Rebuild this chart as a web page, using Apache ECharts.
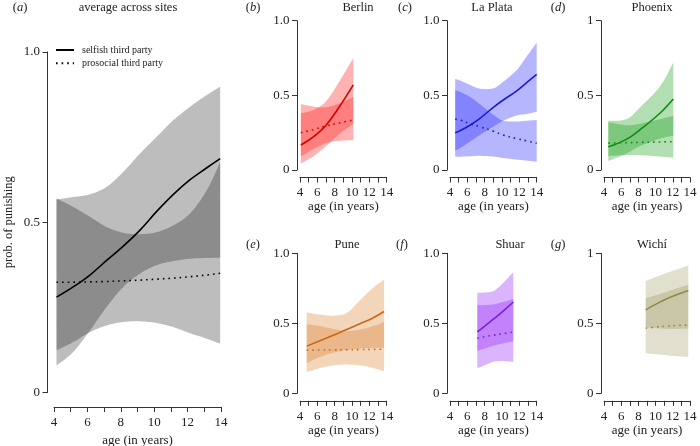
<!DOCTYPE html>
<html><head><meta charset="utf-8">
<script src="https://cdn.jsdelivr.net/npm/echarts/dist/echarts.min.js"></script>
<style>html,body{margin:0;padding:0;background:#fff}#c{width:700px;height:446px}</style>
</head><body><div id="c"></div>
<script>
// ---------- data ----------
const panelLetters = ['a','b','c','d','e','f','g'];
const panelTitles = ['average across sites','Berlin','La Plata','Phoenix','Pune','Shuar','Wichí'];
const seriesNames = ['selfish third party','prosocial third party'];
const xTicks = [4,5,6,7,8,9,10,11,12,13,14];

// (a) average across sites
const aAge = [4.15,5.15,6.15,7.15,8.15,9.15,10.15,11.15,12.15,13.15,13.95];
const aSelfish    = [0.28,0.31,0.345,0.388,0.43,0.477,0.532,0.582,0.625,0.66,0.687];
const aSelfishHi  = [0.567,0.574,0.582,0.604,0.648,0.702,0.751,0.80,0.839,0.874,0.898];
const aSelfishLo  = [0.079,0.119,0.182,0.251,0.31,0.349,0.374,0.386,0.393,0.395,0.396];
const aProsocial  = [0.324,0.324,0.325,0.326,0.328,0.33,0.333,0.336,0.34,0.345,0.35];
const aProsocialHi= [0.57,0.545,0.516,0.486,0.469,0.465,0.471,0.491,0.526,0.594,0.677];
const aProsocialLo= [0.124,0.148,0.177,0.197,0.207,0.209,0.204,0.192,0.174,0.158,0.143];

// (b) Berlin
const bAge = [4.1,5.5,7,8.5,10.15];
const bSelfish    = [0.167,0.22,0.30,0.42,0.57];
const bSelfishHi  = [0.38,0.40,0.46,0.59,0.75];
const bSelfishLo  = [0.045,0.09,0.16,0.24,0.31];
const bProsocial  = [0.25,0.27,0.295,0.315,0.335];
const bProsocialHi= [0.442,0.425,0.42,0.445,0.49];
const bProsocialLo= [0.09,0.14,0.18,0.195,0.20];

// (c) La Plata
const cAge = [4.6,5.15,6.3,7.46,9.0,10.15,11.7,12.84,14];
const cSelfish    = [0.25,0.263,0.30,0.346,0.42,0.469,0.53,0.585,0.64];
const cSelfishHi  = [0.61,0.60,0.57,0.545,0.547,0.592,0.67,0.76,0.853];
const cSelfishLo  = [0.13,0.145,0.19,0.235,0.29,0.33,0.365,0.375,0.39];
const cProsocial  = [0.34,0.335,0.31,0.29,0.26,0.234,0.21,0.195,0.179];
const cProsocialHi= [0.535,0.524,0.49,0.44,0.37,0.33,0.325,0.33,0.335];
const cProsocialLo= [0.09,0.089,0.092,0.095,0.09,0.08,0.07,0.063,0.056];

// (d) Phoenix
const dAge = [4.5,6.6,8.2,10.5,12.06];
const dSelfish    = [0.155,0.205,0.27,0.38,0.475];
const dSelfishHi  = [0.33,0.34,0.42,0.56,0.72];
const dSelfishLo  = [0.06,0.11,0.16,0.21,0.229];
const dProsocial  = [0.18,0.183,0.185,0.188,0.19];
const dProsocialHi= [0.32,0.30,0.31,0.34,0.363];
const dProsocialLo= [0.094,0.10,0.10,0.09,0.083];

// (e) Pune
const eAge = [4.77,6.31,7.85,9.38,10.92,12.46,13.7];
const eSelfish    = [0.337,0.375,0.415,0.455,0.497,0.54,0.584];
const eSelfishHi  = [0.577,0.562,0.555,0.573,0.665,0.755,0.813];
const eSelfishLo  = [0.214,0.26,0.29,0.31,0.32,0.325,0.326];
const eProsocial  = [0.308,0.309,0.31,0.311,0.312,0.314,0.315];
const eProsocialHi= [0.494,0.48,0.46,0.445,0.455,0.48,0.51];
const eProsocialLo= [0.151,0.18,0.2,0.205,0.2,0.18,0.158];

// (f) Shuar
const fAge = [7.15,8,9,10,11.3];
const fSelfish    = [0.438,0.48,0.53,0.58,0.652];
const fSelfishHi  = [0.719,0.72,0.73,0.78,0.865];
const fSelfishLo  = [0.18,0.20,0.225,0.23,0.225];
const fProsocial  = [0.393,0.405,0.415,0.425,0.438];
const fProsocialHi= [0.629,0.63,0.635,0.65,0.674];
const fProsocialLo= [0.303,0.32,0.34,0.355,0.371];

// (g) Wichí
const gAge = [8.85,10,11.3,12.5,13.8];
const gSelfish    = [0.596,0.635,0.675,0.705,0.735];
const gSelfishHi  = [0.802,0.83,0.86,0.885,0.914];
const gSelfishLo  = [0.47,0.465,0.46,0.46,0.461];
const gProsocial  = [0.465,0.472,0.48,0.485,0.488];
const gProsocialHi= [0.679,0.70,0.725,0.75,0.775];
const gProsocialLo= [0.286,0.28,0.272,0.265,0.259];

// ---------- layout / style ----------
const FONT = '"Liberation Serif", "Times New Roman", serif';
const panels = [
  {age:aAge, s:aSelfish, sHi:aSelfishHi, sLo:aSelfishLo, p:aProsocial, pHi:aProsocialHi, pLo:aProsocialLo,
   band:'rgba(0,0,0,0.26)', line:'#000000', grid:{left:54, top:52, width:167, height:340.5}, yOff:6.5, xOff:14.5, xGap:26, yLab:'1.0'},
  {age:bAge, s:bSelfish, sHi:bSelfishHi, sLo:bSelfishLo, p:bProsocial, pHi:bProsocialHi, pLo:bProsocialLo,
   band:'rgba(255,20,20,0.33)', line:'#d40000', grid:{left:300, top:20.7, width:86.7, height:149.3}, yOff:3, xOff:7.5, xGap:23, yLab:'1.0'},
  {age:cAge, s:cSelfish, sHi:cSelfishHi, sLo:cSelfishLo, p:cProsocial, pHi:cProsocialHi, pLo:cProsocialLo,
   band:'rgba(20,20,255,0.31)', line:'#1c1ccc', grid:{left:450, top:20.7, width:86.7, height:149.3}, yOff:3, xOff:7.5, xGap:23, yLab:'1.0'},
  {age:dAge, s:dSelfish, sHi:dSelfishHi, sLo:dSelfishLo, p:dProsocial, pHi:dProsocialHi, pLo:dProsocialLo,
   band:'rgba(0,150,0,0.3)', line:'#138a13', grid:{left:604, top:20.7, width:86, height:149.3}, yOff:3, xOff:7.5, xGap:23, yLab:'1'},
  {age:eAge, s:eSelfish, sHi:eSelfishHi, sLo:eSelfishLo, p:eProsocial, pHi:eProsocialHi, pLo:eProsocialLo,
   band:'rgba(215,115,25,0.3)', line:'#c8691a', grid:{left:300, top:253.3, width:86.7, height:140}, yOff:3, xOff:7.5, xGap:23, yLab:'1.0'},
  {age:fAge, s:fSelfish, sHi:fSelfishHi, sLo:fSelfishLo, p:fProsocial, pHi:fProsocialHi, pLo:fProsocialLo,
   band:'rgba(150,40,245,0.35)', line:'#7a1fd6', grid:{left:450, top:253.3, width:86.7, height:140}, yOff:3, xOff:7.5, xGap:23, yLab:'1.0'},
  {age:gAge, s:gSelfish, sHi:gSelfishHi, sLo:gSelfishLo, p:gProsocial, pHi:gProsocialHi, pLo:gProsocialLo,
   band:'rgba(135,128,60,0.25)', line:'#8c8a4a', grid:{left:604, top:253.3, width:86, height:140}, yOff:3, xOff:7.5, xGap:23, yLab:'1'}
];
const letterPos = [[20,8],[253,8],[405,8],[558,8],[253,245],[402,245],[558,245]];
const titlePos  = [[128,8],[358,8],[492,8],[652,8],[347,245],[510,245],[652,245]];

function spline(p){
  const out=[];
  for(let i=0;i<p.length-1;i++){
    const p0=p[Math.max(i-1,0)], p1=p[i], p2=p[i+1], p3=p[Math.min(i+2,p.length-1)];
    for(let k=0;k<10;k++){
      const t=k/10, t2=t*t, t3=t2*t;
      const f=(a,b,c,d)=>0.5*(2*b+(-a+c)*t+(2*a-5*b+4*c-d)*t2+(-a+3*b-3*c+d)*t3);
      out.push([f(p0[0],p1[0],p2[0],p3[0]), f(p0[1],p1[1],p2[1],p3[1])]);
    }
  }
  out.push(p[p.length-1]);
  return out;
}
function band(gi, ages, lo, hi, color){
  return {
    type:'custom', name:'band'+gi+color, xAxisIndex:gi, yAxisIndex:gi, silent:true, z:1,
    data: ages.map((a,i)=>[a, lo[i], hi[i]]),
    encode:{x:0, y:[1,2]},
    renderItem:function(params, api){
      if(params.dataIndex!==0) return null;
      const up = ages.map((a,i)=>api.coord([a, hi[i]]));
      const dn = ages.map((a,i)=>api.coord([a, lo[i]]));
      const pts = spline(up).concat(spline(dn).reverse());
      return {type:'polygon', shape:{points:pts}, style:{fill:color, stroke:null}};
    }
  };
}

const grids=[], xAxes=[], yAxes=[], series=[], graphics=[];
panels.forEach((P,gi)=>{
  grids.push(Object.assign({containLabel:false, outerBoundsMode:'none'}, P.grid));
  const axLine = {show:true, onZero:false, lineStyle:{color:'#333', width:1}};
  const tick = {show:true, length:5, inside:false, lineStyle:{color:'#333', width:1}};
  xAxes.push({type:'value', gridIndex:gi, min:4, max:14, interval:1, offset:P.xOff,
    axisLine:axLine, axisTick:tick, splitLine:{show:false},
    axisLabel:{formatter:v=>(v%2===0?String(v):''), fontFamily:FONT, fontSize:13, color:'#222', margin:9, hideOverlap:false},
    name:'age (in years)', nameLocation:'middle', nameGap:P.xGap,
    nameTextStyle:{fontFamily:FONT, fontSize:13, color:'#222'}});
  const yl = P.yLab;
  yAxes.push(Object.assign({type:'value', gridIndex:gi, min:0, max:1, interval:0.5, offset:P.yOff,
    axisLine:axLine, axisTick:tick, splitLine:{show:false},
    axisLabel:{formatter:v=>(v===0?'0':(v===1?yl:'0.5')), fontFamily:FONT, fontSize:13, color:'#222', margin:7.5}},
    gi===0?{name:'prob. of punishing', nameLocation:'middle', nameGap:32,
      nameTextStyle:{fontFamily:FONT, fontSize:12.5, color:'#222'}}:{}));
  series.push(band(gi, P.age, P.sLo, P.sHi, P.band));
  series.push(band(gi, P.age, P.pLo, P.pHi, P.band));
  series.push({type:'line', name: gi===0?seriesNames[0]:panelTitles[gi]+' selfish', xAxisIndex:gi, yAxisIndex:gi,
    data:P.age.map((a,i)=>[a,P.s[i]]), showSymbol:false, symbol:'none', smooth:0.4, z:3, silent:true,
    lineStyle:{color:P.line, width:1.6, type:'solid'}, itemStyle:{color:P.line}});
  series.push({type:'line', name: gi===0?seriesNames[1]:panelTitles[gi]+' prosocial', xAxisIndex:gi, yAxisIndex:gi,
    data:P.age.map((a,i)=>[a,P.p[i]]), showSymbol:false, symbol:'none', smooth:0.4, z:3, silent:true,
    lineStyle:{color:P.line, width:1.6, type:[1.6,4]}, itemStyle:{color:P.line}});
  const rich = {n:{fontFamily:FONT, fontSize:12.5, fill:'#222', color:'#222'}, i:{fontFamily:FONT, fontSize:12.5, fontStyle:'italic', fill:'#222', color:'#222'}};
  graphics.push({type:'text', x:letterPos[gi][0], y:letterPos[gi][1], silent:true,
    style:{text:'{n|(}{i|'+panelLetters[gi]+'}{n|)}', rich:rich, align:'center', verticalAlign:'middle', textAlign:'center', textVerticalAlign:'middle'}});
  graphics.push({type:'text', x:titlePos[gi][0], y:titlePos[gi][1], silent:true,
    style:{text:panelTitles[gi], fontFamily:FONT, fontSize:12.5, fill:'#222', align:'center', verticalAlign:'middle', textAlign:'center', textVerticalAlign:'middle'}});
});

const chart = echarts.init(document.getElementById('c'), null, {renderer:'canvas'});
chart.setOption({
  animation:false,
  backgroundColor:'#fff',
  grid:grids, xAxis:xAxes, yAxis:yAxes, series:series,
  legend:{data:seriesNames, orient:'vertical', left:50, top:40, itemWidth:18, itemHeight:10, itemGap:3.3,
    selectedMode:false, itemStyle:{opacity:0, borderWidth:0},
    textStyle:{fontFamily:FONT, fontSize:10, color:'#222', padding:[0,0,0,3], lineHeight:10}},
  graphic:graphics
});
</script></body></html>
